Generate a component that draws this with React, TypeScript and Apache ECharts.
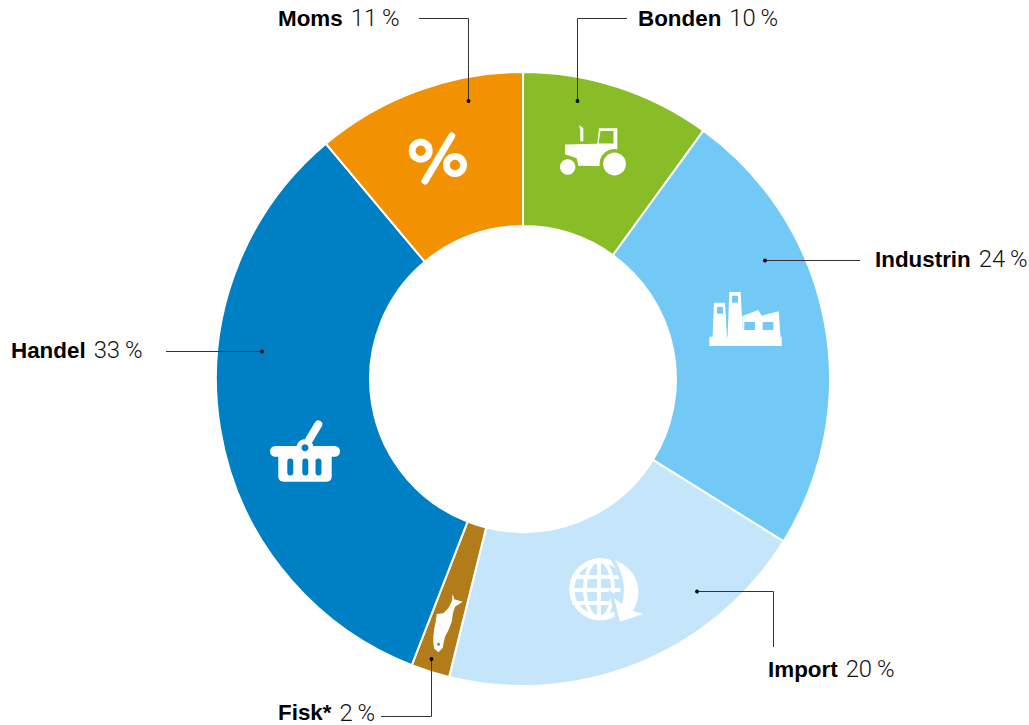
import React, { useEffect, useRef } from "react";
import * as echarts from "echarts";

const categories = ["Bonden", "Industrin", "Import", "Fisk*", "Handel", "Moms"];
const printedShares = [10, 24, 20, 2, 33, 11];
const sliceValues = [10, 23.87, 20, 2.03, 33, 11.1];
const sliceColors = ["#89BD27", "#72C9F5", "#C5E6FA", "#B27C1A", "#0080C4", "#F39200"];

const labelSpots = [
  { x: 638, y: 18 },
  { x: 875, y: 259 },
  { x: 768, y: 669 },
  { x: 278, y: 712.5 },
  { x: 11, y: 350 },
  { x: 278, y: 18 },
];
const leaders: number[][][] = [
  [[627, 18.5], [577.5, 18.5], [577.5, 101]],
  [[860, 260.5], [765, 260.5]],
  [[773.5, 647], [773.5, 591.5], [697, 591.5]],
  [[381, 716.5], [431.5, 716.5], [431.5, 659]],
  [[166, 351.5], [262, 351.5]],
  [[419, 18.5], [468.5, 18.5], [468.5, 101]],
];

const WHITE = "#fff";
const LIGHT = sliceColors[2];
const BLUE = sliceColors[4];
const GREEN = sliceColors[0];
const SKY = sliceColors[1];
const BROWN = sliceColors[3];

echarts.graphic.registerShape(
  "arrowIcon",
  echarts.graphic.extendPath(
    "M615 560 Q 638 570 638.5 592 Q 638.5 603 632.7 610.7 L643.3 614 L620 621.7 L614 598 L622 604 Q 628 582 615 560 Z",
    {}
  )
);
echarts.graphic.registerShape(
  "fishIcon",
  echarts.graphic.extendPath(
    "M452.7 594 L454.3 599.3 L462.7 601.7 L455 606.7 L453 613 L451.7 621.7 Q 449 630 445 636.7 Q 443.5 643 442.7 648 L438.3 652.3 L434 648.3 Q 433 642 433.3 636.7 Q 434 628 435.7 621.7 L436.7 614 L443.3 613.3 L448.3 608.3 L451.7 601.7 Z",
    {}
  )
);

const poly = (points: number[][], fill: string) => ({
  type: "polygon",
  shape: { points },
  style: { fill },
  silent: true,
});
const box = (x: number, y: number, width: number, height: number, fill: string, r = 0) => ({
  type: "rect",
  shape: { x, y, width, height, r },
  style: { fill },
  silent: true,
});
const dot = (cx: number, cy: number, r: number, fill: string) => ({
  type: "circle",
  shape: { cx, cy, r },
  style: { fill },
  silent: true,
});
const ring = (cx: number, cy: number, r: number, lineWidth: number) => ({
  type: "circle",
  shape: { cx, cy, r },
  style: { fill: "none", stroke: WHITE, lineWidth },
  silent: true,
});
const bar = (x1: number, y1: number, x2: number, y2: number, lineWidth: number, stroke = WHITE, cap = "butt") => ({
  type: "line",
  shape: { x1, y1, x2, y2 },
  style: { stroke, lineWidth, lineCap: cap },
  silent: true,
});

const tractor = [
  poly([[565, 144.5], [597.3, 143.8], [599, 128.3], [617.3, 128.3], [617.3, 152], [600, 166], [578.3, 165.7], [576.7, 158.3], [565, 154.3]], WHITE),
  poly([[600.5, 131], [613.5, 131], [613.5, 143.5], [598.5, 143.5]], GREEN),
  poly([[579, 125], [583.3, 128], [583.3, 141.3], [580.3, 141.3], [580.3, 130]], WHITE),
  dot(614.5, 164, 15, GREEN),
  dot(614.5, 164, 11.4, WHITE),
  dot(567.7, 167, 7.7, WHITE),
];

const factory = [
  box(709.3, 336.7, 72.4, 9.3, WHITE),
  poly([[714, 302.7], [725, 302.7], [727, 338], [712.5, 338]], WHITE),
  poly([[729.3, 292], [740.7, 292], [743, 338], [727.5, 338]], WHITE),
  poly([[742.3, 316], [758.3, 310], [761.7, 315.7], [778.7, 311.3], [780.7, 338], [742.3, 338]], WHITE),
  box(717, 307, 6, 6.7, SKY),
  box(732, 295.7, 6, 7, SKY),
  box(744.3, 322, 10.7, 8, SKY),
  box(762.7, 322, 10.7, 8, SKY),
];

const globe = [
  ring(600.3, 589.3, 28.5, 5),
  { type: "ellipse", shape: { cx: 599, cy: 589.3, rx: 14, ry: 29 }, style: { fill: "none", stroke: WHITE, lineWidth: 3.8 }, silent: true },
  bar(599, 560, 599, 619, 3.8),
  bar(572, 577, 626, 577, 3.8),
  bar(570, 590, 628, 590, 3.8),
  bar(572, 603, 624, 603, 3.8),
  { type: "arrowIcon", style: { fill: LIGHT, stroke: LIGHT, lineWidth: 7 }, silent: true },
  { type: "arrowIcon", style: { fill: WHITE }, silent: true },
];

const basket = [
  bar(305, 446.7, 318.3, 424.5, 8, WHITE, "round"),
  box(278.3, 452, 53.4, 29.7, WHITE, 5),
  box(270, 446, 70, 10.7, WHITE, 5.3),
  dot(305, 447.7, 8.5, WHITE),
  dot(305, 447.7, 3.5, BLUE),
  box(287.3, 458.5, 6, 17, BLUE, 3),
  box(302.3, 458.5, 6, 17, BLUE, 3),
  box(315.5, 458.5, 6, 17, BLUE, 3),
];

const percent = [
  bar(425, 181, 451.7, 136, 7, WHITE, "round"),
  ring(420.7, 150.7, 8.6, 6.8),
  ring(455, 165, 8.6, 6.8),
];

const fish = [
  { type: "fishIcon", style: { fill: WHITE }, silent: true },
  dot(438.5, 644.3, 1.5, BROWN),
];

export default function App() {
  const ref = useRef<HTMLDivElement>(null);
  useEffect(() => {
    document.body.style.margin = "0";
    const chart = echarts.init(ref.current!, undefined, { renderer: "svg" });
    const leaderMarks = leaders.flatMap((pts) => {
      const end = pts[pts.length - 1];
      return [
        { type: "polyline", shape: { points: pts }, style: { fill: "none", stroke: "#333", lineWidth: 1 }, silent: true },
        { type: "circle", shape: { cx: end[0], cy: end[1], r: 1.9 }, style: { fill: "#000" }, silent: true },
      ];
    });
    const labels = categories.map((name, i) => ({
      type: "text",
      x: labelSpots[i].x,
      y: labelSpots[i].y,
      silent: true,
      style: {
        text: `{b|${name}}{r|${printedShares[i]}\u2009%}`,
        verticalAlign: "middle",
        rich: {
          b: { fontFamily: "Liberation Sans", fontWeight: "bold", fontSize: 22.4, lineHeight: 18, fill: "#000" },
          r: { fontFamily: "Roboto", fontWeight: 300, fontSize: 23.8, lineHeight: 18, fill: "#111", padding: [0, 0, 0, 8] },
        },
      },
    }));
    const overlay = [...tractor, ...factory, ...globe, ...basket, ...percent, ...fish, ...leaderMarks, ...labels].map(
      (el: any) => ({ ...el, z: 10, zlevel: 0 })
    );
    chart.setOption({
      animation: false,
      backgroundColor: "#fff",
      series: [
        {
          type: "pie",
          center: [523, 379],
          radius: [153, 307],
          startAngle: 90,
          z: 1,
          silent: true,
          label: { show: false },
          labelLine: { show: false },
          itemStyle: { borderColor: "#fff", borderWidth: 2 },
          data: categories.map((name, i) => ({
            name,
            value: sliceValues[i],
            itemStyle: { color: sliceColors[i] },
          })),
        },
      ],
      graphic: { elements: overlay },
    });
    return () => chart.dispose();
  }, []);
  return <div ref={ref} style={{ width: 1029, height: 725 }} />;
}
